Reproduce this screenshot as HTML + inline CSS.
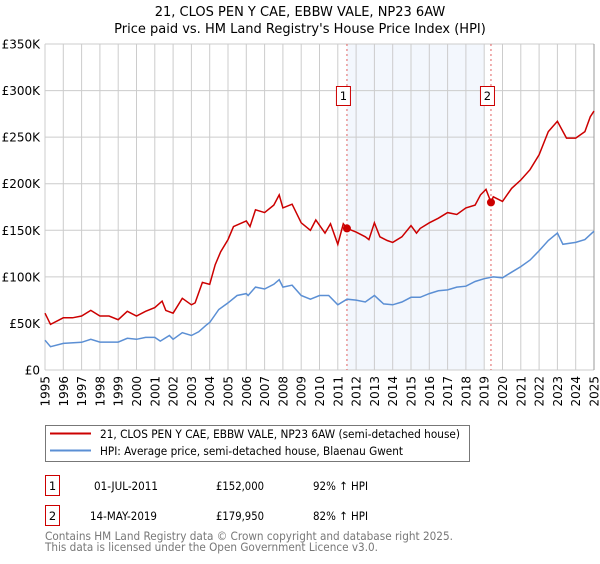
<!DOCTYPE html>
<html><head><meta charset="utf-8"><style>
body{margin:0;background:#fff;font-family:"DejaVu Sans","Liberation Sans",sans-serif;}
svg text{font-family:"DejaVu Sans","Liberation Sans",sans-serif;}
</style></head><body>
<svg id="chart" width="600" height="560" xmlns="http://www.w3.org/2000/svg">
<text x="300" y="16" text-anchor="middle" font-size="13">21, CLOS PEN Y CAE, EBBW VALE, NP23 6AW</text>
<text x="300" y="33" text-anchor="middle" font-size="13">Price paid vs. HM Land Registry's House Price Index (HPI)</text>
<g id="plot"></g>
<g>
<rect x="45.5" y="425.5" width="424" height="36" fill="#fff" stroke="#777"/>
<line x1="50" y1="433.5" x2="91" y2="433.5" stroke="#cc0000" stroke-width="2"/>
<text x="100" y="438" font-size="11.5" textLength="360" lengthAdjust="spacingAndGlyphs">21, CLOS PEN Y CAE, EBBW VALE, NP23 6AW (semi-detached house)</text>
<line x1="50" y1="450.5" x2="91" y2="450.5" stroke="#5b8fd4" stroke-width="2"/>
<text x="100" y="455" font-size="11.5" textLength="303" lengthAdjust="spacingAndGlyphs">HPI: Average price, semi-detached house, Blaenau Gwent</text>
</g>
<g font-size="11.5">
<rect x="45.5" y="475.5" width="14" height="20" fill="#fff" stroke="#cc0000"/>
<text x="52.5" y="490" text-anchor="middle">1</text>
<text x="94" y="490" textLength="64" lengthAdjust="spacingAndGlyphs">01-JUL-2011</text>
<text x="216" y="490" textLength="48" lengthAdjust="spacingAndGlyphs">£152,000</text>
<text x="313" y="490" textLength="55" lengthAdjust="spacingAndGlyphs">92% ↑ HPI</text>
<rect x="45.5" y="505.5" width="14" height="20" fill="#fff" stroke="#cc0000"/>
<text x="52.5" y="520" text-anchor="middle">2</text>
<text x="90" y="520" textLength="67" lengthAdjust="spacingAndGlyphs">14-MAY-2019</text>
<text x="216" y="520" textLength="48" lengthAdjust="spacingAndGlyphs">£179,950</text>
<text x="313" y="520" textLength="55" lengthAdjust="spacingAndGlyphs">82% ↑ HPI</text>
</g>
<text x="45" y="540" font-size="11.5" fill="#777" textLength="408" lengthAdjust="spacingAndGlyphs">Contains HM Land Registry data © Crown copyright and database right 2025.</text>
<text x="45" y="551" font-size="11.5" fill="#777" textLength="333" lengthAdjust="spacingAndGlyphs">This data is licensed under the Open Government Licence v3.0.</text>
</svg>
<script>
const yTicks=[0,50,100,150,200,250,300,350];
const yTickLabels=["£0","£50K","£100K","£150K","£200K","£250K","£300K","£350K"];
const years=[1995,1996,1997,1998,1999,2000,2001,2002,2003,2004,2005,2006,2007,2008,2009,2010,2011,2012,2013,2014,2015,2016,2017,2018,2019,2020,2021,2022,2023,2024,2025];
const hpiT=[1995,1995.3,1996,1997,1997.5,1998,1999,1999.5,2000,2000.5,2001,2001.3,2001.8,2002,2002.5,2003,2003.4,2003.8,2004,2004.5,2005,2005.5,2006,2006.1,2006.5,2007,2007.5,2007.8,2008,2008.5,2009,2009.5,2010,2010.5,2011,2011.5,2012,2012.5,2013,2013.5,2014,2014.5,2015,2015.5,2016,2016.5,2017,2017.5,2018,2018.5,2019,2019.5,2020,2020.5,2021,2021.5,2022,2022.5,2023,2023.3,2024,2024.5,2025];
const hpiV=[32,25,28.6,29.7,33,30,30,34,33,35,35,31,37,33,40,37,41,48,51,65,72,80,82,80,89,87,92,97,89,91,80,76,80,80,70,76,75,73,80,71,70,73,78,78,82,85,86,89,90,95,98,100,99,105,111,118,128,139,147,135,137,140,149];
const priceT=[1995,1995.3,1996,1996.5,1997,1997.5,1998,1998.5,1999,1999.5,2000,2000.5,2001,2001.4,2001.6,2002,2002.5,2003,2003.2,2003.4,2003.6,2004,2004.3,2004.6,2005,2005.3,2006,2006.2,2006.5,2007,2007.5,2007.8,2008,2008.5,2009,2009.5,2009.8,2010.3,2010.6,2011,2011.3,2011.5,2012,2012.5,2012.7,2013,2013.3,2013.7,2014,2014.5,2015,2015.3,2015.5,2016,2016.5,2017,2017.5,2018,2018.5,2018.8,2019.1,2019.37,2019.5,2020,2020.5,2021,2021.5,2022,2022.5,2023,2023.5,2024,2024.5,2024.8,2025];
const priceV=[61,49,56,56,58,64,58,58,54,63,58,63,67,74,64,61,77,70,72,83,94,92,113,127,140,154,160,154,172,169,177,188,174,178,158,150,161,147,157,135,157,152,148,143,140,158,143,139,137,143,155,147,152,158,163,169,167,174,177,188,194,179.95,186,181,195,204,215,231,256,267,249,249,256,272,278];
const saleT=[2011.5,2019.37];
const saleV=[152,179.95];
const saleLabels=["1","2"];
const shadeRange=[2011.5,2019.0];

const X0=45,X1=594,Y0=370,Y1=44;
const xs=t=>X0+(t-1995)/(2025-1995)*(X1-X0);
const ys=v=>Y0-v/350*(Y0-Y1);
const NS="http://www.w3.org/2000/svg";
const g=document.getElementById('plot');
function mk(tag,attrs){const e=document.createElementNS(NS,tag);for(const k in attrs)e.setAttribute(k,attrs[k]);g.appendChild(e);return e;}

const sh=mk('rect',{x:xs(shadeRange[0]),y:Y1,width:xs(shadeRange[1])-xs(shadeRange[0]),height:Y0-Y1,fill:'#eef3fc',opacity:0.7});


years.forEach(y=>{const l=mk('line',{x1:xs(y),x2:xs(y),y1:Y1,y2:Y0,stroke:'#cccccc','stroke-width':1});


const t=mk('text',{x:0,y:0,'font-size':12,'text-anchor':'end',transform:`translate(${xs(y)+4.5},376) rotate(-90)`});
t.textContent=y;

});
yTicks.forEach((v,i)=>{const l=mk('line',{x1:X0,x2:X1,y1:ys(v),y2:ys(v),stroke:'#cccccc','stroke-width':1});


const t=mk('text',{x:40,y:ys(v)+4.5,'font-size':12,'text-anchor':'end'});
t.textContent=yTickLabels[i];

});
const edge=mk('line',{x1:X1,x2:X1,y1:Y1,y2:Y0,stroke:'#999','stroke-width':1});



saleT.forEach((t,i)=>{const l=mk('line',{x1:xs(t),x2:xs(t),y1:Y1,y2:Y0,stroke:'#e06060','stroke-width':1,'stroke-dasharray':'2,3'});

});

const path=(T,V)=>T.map((t,i)=>(i?'L':'M')+xs(t).toFixed(1)+','+ys(V[i]).toFixed(1)).join('');
const hp=mk('path',{d:path(hpiT,hpiV),fill:'none',stroke:'#5b8fd4','stroke-width':1.5});


const pp=mk('path',{d:path(priceT,priceV),fill:'none',stroke:'#cc0000','stroke-width':1.5});



saleT.forEach((t,i)=>{const c=mk('circle',{cx:xs(t),cy:ys(saleV[i]),r:4,fill:'#cc0000'});


const r=mk('rect',{x:xs(t)-10.5,y:86.5,width:14,height:19,fill:'#fff',stroke:'#cc0000'});


const tx=mk('text',{x:xs(t)-3.5,y:100,'font-size':11.5,'text-anchor':'middle'});
tx.textContent=saleLabels[i];

});
</script>
</body></html>
